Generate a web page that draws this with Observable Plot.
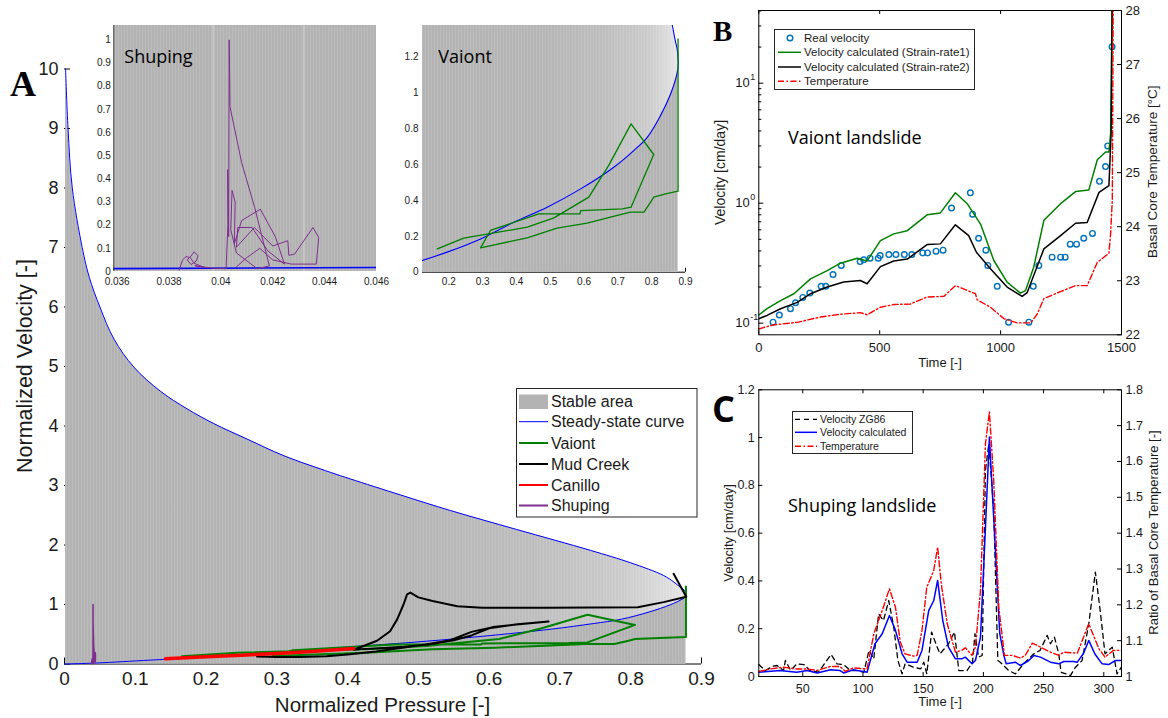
<!DOCTYPE html>
<html><head><meta charset="utf-8">
<script src="https://cdn.jsdelivr.net/npm/d3@7"></script>
<script src="https://cdn.jsdelivr.net/npm/@observablehq/plot@0.6"></script>
<style>
body{margin:0;background:#fff;}
#root{position:relative;width:1168px;height:718px;overflow:hidden;background:#fff;}
</style></head><body>
<svg width="0" height="0" style="position:absolute;left:0;top:0">
  <defs>
    <linearGradient id="stableGrad" x1="0" y1="0" x2="1" y2="0">
      <stop offset="0" stop-color="#b2b2b2"/>
      <stop offset="0.55" stop-color="#b5b5b5"/>
      <stop offset="0.75" stop-color="#bdbdbd"/>
      <stop offset="0.9" stop-color="#cbcbcb"/>
      <stop offset="0.97" stop-color="#dcdcdc"/>
      <stop offset="1" stop-color="#e8e8e8"/>
    </linearGradient>
    <pattern id="stableStripes" width="3" height="10" patternUnits="userSpaceOnUse">
      <rect x="0" y="0" width="1" height="10" fill="#ffffff" fill-opacity="0.13"/>
    </pattern>
  </defs>
</svg>
<div id="root"></div>
<script>
// ---------------- Panel A data ----------------
const steadyUpperP = [0.0015,0.005,0.011,0.025,0.035,0.05,0.07,0.098,0.136,0.173,0.211,0.258,0.31,0.376,0.404,0.475,0.545,0.639,0.743,0.80,0.846,0.861,0.87,0.876,0.878];
const steadyUpperV = [10.0,9.0,8.0,7.0,6.5,6.0,5.46,4.99,4.58,4.29,4.04,3.78,3.50,3.22,3.11,2.84,2.58,2.26,1.91,1.70,1.49,1.377,1.29,1.237,1.144];
const steadyLowerP = [0,0.046,0.121,0.195,0.294,0.392,0.491,0.59,0.688,0.747,0.787,0.826,0.856,0.871,0.878];
const steadyLowerV = [0,0.017,0.065,0.112,0.186,0.279,0.363,0.465,0.586,0.679,0.753,0.874,0.995,1.079,1.144];

const vaiontP = [0.166,0.244,0.432,0.511,0.614,0.673,0.739,0.806,0.739,0.713,0.590,0.588,0.466,0.323,0.294,0.432,0.52,0.609,0.678,0.737,0.777,0.797,0.806,0.841,0.878,0.878];
const vaiontV = [0.130,0.190,0.251,0.303,0.419,0.596,0.828,0.657,0.363,0.354,0.344,0.326,0.326,0.233,0.136,0.192,0.246,0.274,0.307,0.335,0.335,0.391,0.419,0.437,0.452,1.302];

const mudP = [0.272,0.30,0.333,0.37,0.404,0.44,0.475,0.51,0.545,0.575,0.605,0.635,0.684,0.64,0.6,0.575,0.55,0.517,0.48,0.446,0.42,0.4086,0.4416,0.46,0.47,0.479,0.484,0.4887,0.50,0.52,0.555,0.59,0.68,0.81,0.8465,0.8785,0.8606];
const mudV = [0.126,0.118,0.117,0.13,0.165,0.21,0.27,0.33,0.40,0.54,0.62,0.66,0.714,0.67,0.60,0.48,0.40,0.33,0.29,0.265,0.25,0.24,0.39,0.55,0.75,1.0,1.17,1.20,1.12,1.06,0.97,0.945,0.944,0.955,1.04,1.13,1.516];

const canilloP = [0.1427,0.2,0.25,0.3,0.35,0.4086];
const canilloV = [0.087,0.12,0.148,0.177,0.21,0.26];

const shupingP = [0.03839,0.03852,0.03866,0.03880,0.03897,0.03912,0.03905,0.03885,0.03870,0.03880,0.03898,0.03935,0.03900,0.03960,0.04020,0.04027,0.04026,0.04030,0.04032,0.04035,0.04080,0.04130,0.04187,0.04140,0.04060,0.04038,0.04043,0.04055,0.04052,0.04080,0.04152,0.04210,0.04245,0.04180,0.04120,0.04065,0.04060,0.04129,0.04200,0.04258,0.04262,0.04284,0.04355,0.04377,0.04368,0.04271,0.04200,0.04150,0.04100,0.04060];
const shupingV = [0.006,0.050,0.065,0.060,0.085,0.068,0.045,0.030,0.050,0.062,0.035,0.018,0.025,0.015,0.012,0.20,0.44,0.15,1.00,0.712,0.47,0.277,0.024,0.012,0.08,0.18,0.35,0.30,0.12,0.22,0.269,0.15,0.032,0.09,0.19,0.19,0.105,0.19,0.11,0.133,0.07,0.075,0.19,0.147,0.032,0.032,0.05,0.10,0.06,0.02];

const aXTicks = [0,0.1,0.2,0.3,0.4,0.5,0.6,0.7,0.8,0.9];
const aYTicks = [0,1,2,3,4,5,6,7,8,9,10];
const shXTicks = [0.036,0.038,0.04,0.042,0.044,0.046];
const shYTicks = [0,0.1,0.2,0.3,0.4,0.5,0.6,0.7,0.8,0.9,1];
const shStripes = [0.0397,0.0432];
const shDomainX = [0.03587,0.046], shDomainY = [0,1.062];
const vaXTicks = [0.2,0.3,0.4,0.5,0.6,0.7,0.8,0.9];
const vaYTicks = [0,0.2,0.4,0.6,0.8,1,1.2];
const vaDomainX = [0.1222,0.9], vaDomainY = [0,1.377];

const aLegendLabels = ["Stable area","Steady-state curve","Vaiont","Mud Creek","Canillo","Shuping"];

// ---------------- Panel B data ----------------
const bRealT = [59,85,131,152,182,211,258,277,307,341,419,434,460,494,502,538,567,602,633,678,698,733,762,797,875,884,909,939,947,986,1033,1117,1135,1158,1213,1248,1267,1288,1314,1344,1380,1409,1434,1443,1461];
const bRealV = [0.102,0.117,0.132,0.148,0.164,0.178,0.203,0.203,0.254,0.303,0.326,0.337,0.348,0.348,0.366,0.373,0.373,0.373,0.373,0.385,0.385,0.398,0.406,0.91,1.22,0.81,0.51,0.406,0.303,0.203,0.102,0.102,0.203,0.303,0.355,0.355,0.355,0.455,0.455,0.51,0.56,1.52,2.02,3.0,20.1];
const bSr1T = [0,34,90,145,214,283,338,407,448,503,558,614,696,751,813,862,917,972,1027,1082,1103,1137,1179,1248,1310,1365,1400,1434,1448,1455,1462];
const bSr1V = [0.117,0.132,0.154,0.176,0.234,0.274,0.316,0.348,0.33,0.488,0.555,0.59,0.8,0.83,1.22,0.99,0.67,0.333,0.22,0.178,0.187,0.293,0.72,0.99,1.25,1.29,2.3,2.67,2.67,3.8,60];
const bSr2T = [0,34,90,159,214,283,351,420,448,503,558,614,696,751,813,868,900,958,1027,1089,1110,1179,1248,1310,1358,1407,1448,1457,1462];
const bSr2V = [0.109,0.116,0.132,0.149,0.176,0.2,0.22,0.227,0.213,0.296,0.33,0.342,0.452,0.458,0.66,0.536,0.39,0.284,0.2,0.167,0.18,0.416,0.536,0.68,0.69,1.23,1.4,3.8,60];
const bTempT = [0,62,159,255,338,420,448,503,558,627,696,765,813,862,896,903,958,1013,1068,1124,1151,1179,1248,1310,1358,1400,1448,1455,1462,1466];
const bTempC = [22.11,22.185,22.23,22.33,22.38,22.41,22.37,22.51,22.56,22.57,22.70,22.71,22.91,22.82,22.76,22.65,22.51,22.30,22.22,22.22,22.38,22.67,22.80,22.91,22.91,23.34,23.51,23.87,24.5,28.5];
const bXTicks = [0,500,1000,1500];
const bYMajor = [0.1,1,10];
const bYExp = ["-1","0","1"];
const bYMinor = [0.09,0.2,0.3,0.4,0.5,0.6,0.7,0.8,0.9,2,3,4,5,6,7,8,9,20,30,40];
const bTTicks = [22,23,24,25,26,27,28];
const bLegendLabels = ["Real velocity","Velocity calculated (Strain-rate1)","Velocity calculated (Strain-rate2)","Temperature"];

// ---------------- Panel C data ----------------
const cZgT = [13.5,19,24.5,28.7,34,35.6,40,45,51,56,63,69,73.5,78.5,84,89.6,95,100.7,105,109,113,117,121.4,125.6,129,132.5,135,142,148,150.5,153,157,161.6,164,171,176,179.6,186.5,191,193,196,199,201.7,204.5,208.6,212,214,221,226.6,233.5,241.9,247,253,255.7,259,262.6,264.5,272.3,276.5,282,287.5,293,297,301,307,311,314.6];
const cZgV = [0.05,0.025,0.042,0.046,0.025,0.067,0.025,0.053,0.05,0.025,0.018,0.06,0.092,0.053,0.05,0.025,0.025,0.018,0.109,0.074,0.262,0.234,0.318,0.206,0.067,0.011,0.053,0.039,0.032,0.06,0.011,0.186,0.123,0.095,0.137,0.186,0.025,0.025,0.06,0.179,0.081,0.088,0.862,0.974,0.695,0.067,0.06,0.025,0.011,0.053,0.095,0.109,0.172,0.137,0.165,0.095,0.018,0.004,0.039,0.067,0.22,0.437,0.276,0.095,0.123,0.011,0.039];
const cCalcT = [13.5,31,45,53.6,62,73,81,84,92,103.4,110,116,122,127,132.5,136.7,145,149,154.6,158.8,162,166.3,171,176.8,182,185,190.6,193.4,197.6,201,205,209,213.6,217,219,226.6,230.8,237.7,242,247.4,255.7,262.6,266.8,275,278,283,287.5,292.5,298.6,304,309.7,314.6];
const cCalcV = [0.018,0.025,0.018,0.025,0.015,0.028,0.025,0.015,0.028,0.018,0.137,0.179,0.255,0.193,0.095,0.06,0.06,0.109,0.276,0.318,0.402,0.234,0.123,0.074,0.074,0.081,0.053,0.067,0.165,0.541,1.002,0.625,0.179,0.088,0.053,0.06,0.046,0.067,0.088,0.081,0.06,0.053,0.063,0.063,0.06,0.095,0.151,0.095,0.053,0.05,0.067,0.067];
const cTempT = [13.5,23,34,45,53.6,62,73,81,85.4,92,103.4,109,116,122,127,131,135,142,145,149,153,158.8,162,165,170,176.8,182,185,190.6,193.4,197.6,201.7,205,208.6,212.8,217.5,224,231,235,240.6,247.4,255.7,262.6,266.8,278,287.5,296,301,308,314.6];
const cTempR = [1.014,1.021,1.026,1.021,1.021,1.017,1.028,1.028,1.014,1.024,1.021,1.119,1.184,1.245,1.193,1.096,1.063,1.057,1.059,1.128,1.249,1.296,1.361,1.259,1.147,1.068,1.073,1.08,1.059,1.082,1.24,1.649,1.738,1.547,1.193,1.059,1.059,1.051,1.06,1.093,1.082,1.068,1.059,1.068,1.065,1.147,1.077,1.054,1.073,1.073];
const cXTicks = [50,100,150,200,250,300];
const cYTicks = [0,0.2,0.4,0.6,0.8,1,1.2];
const cRTicks = [1,1.1,1.2,1.3,1.4,1.5,1.6,1.7,1.8];
const cLegendLabels = ["Velocity ZG86","Velocity calculated","Temperature"];

// ---------------- helpers ----------------
const FONT = "'Liberation Sans', Arial, Helvetica, sans-serif";
const INK = "#1a1a1a";
const SMOOTH = "catmull-rom";
const rows = (xs, ys) => xs.map((x, i) => ({x, y: ys[i]}));
const root = document.getElementById("root");
function place(svg, left, top) {
  const d = document.createElement("div");
  d.style.cssText = `position:absolute;left:${left}px;top:${top}px;`;
  d.appendChild(svg);
  root.appendChild(d);
}
const baseStyle = (bg) => ({background: bg, fontFamily: FONT, color: INK, overflow: "visible"});

const upperArea = rows(steadyUpperP, steadyUpperV);
const lowerArea = rows(steadyLowerP, steadyLowerV);
const steadyCurve = [...lowerArea.slice(0, -1), ...upperArea.slice().reverse()];
const vaiont = rows(vaiontP, vaiontV);
const mud = rows(mudP, mudV);
const canillo = rows(canilloP, canilloV);
const shuping = rows(shupingP, shupingV);

// stable area layers: light gradient under the upper branch, plain grey under the lower branch, stripes on top
const stableMarks = (clip) => [
  Plot.areaY(upperArea, {x: "x", y1: 0, y2: "y", fill: "url(#stableGrad)", curve: SMOOTH, clip}),
  Plot.areaY(lowerArea, {x: "x", y1: 0, y2: "y", fill: "#b3b3b3", curve: SMOOTH, clip}),
  Plot.areaY(upperArea, {x: "x", y1: 0, y2: "y", fill: "url(#stableStripes)", curve: SMOOTH, clip})
];

// ---------------- Panel A main ----------------
{
  const W = 720, H = 718, ML = 64, MR = 19, MT = 68.5, MB = 54.5;
  const FW = W - ML - MR, FH = H - MT - MB;
  const svg = Plot.plot({
    width: W, height: H, marginLeft: ML, marginRight: MR, marginTop: MT, marginBottom: MB,
    x: {domain: [0, 0.9], axis: null},
    y: {domain: [0, 10], axis: null},
    style: baseStyle("transparent"),
    marks: [
      Plot.ruleY([0], {stroke: "#000"}),
      Plot.ruleX(aXTicks, {x: d => d, insetTop: FH - 6, stroke: "#000"}),
      Plot.ruleY(aYTicks, {y: d => d, insetRight: FW - 6, stroke: "#000"}),
      ...stableMarks(false),
      Plot.line(steadyCurve, {x: "x", y: "y", stroke: "#0000ff", strokeWidth: 1, curve: SMOOTH}),
      Plot.line(vaiont, {x: "x", y: "y", stroke: "#008000", strokeWidth: 2}),
      Plot.line(mud, {x: "x", y: "y", stroke: "#000000", strokeWidth: 2}),
      Plot.line(canillo, {x: "x", y: "y", stroke: "#ff0000", strokeWidth: 3.5}),
      Plot.line(shuping, {x: "x", y: "y", stroke: "#7E2F8E", strokeWidth: 1.5}),
      Plot.text(aXTicks, {x: d => d, frameAnchor: "bottom", dy: 15, text: d => String(d), fontSize: 19, lineAnchor: "middle", fill: INK}),
      Plot.text(aYTicks, {y: d => d, frameAnchor: "left", dx: -6, textAnchor: "end", text: d => String(d), fontSize: 18, lineAnchor: "middle", fill: INK})
    ]
  });
  place(svg, 0, 0);
}

// ---------------- Shuping inset ----------------
{
  const W = 288, H = 272, ML = 16.3, MR = 9, MT = 7, MB = 19;
  const svg = Plot.plot({
    width: W, height: H, marginLeft: ML, marginRight: MR, marginTop: MT, marginBottom: MB,
    x: {domain: shDomainX, axis: null},
    y: {domain: shDomainY, axis: null},
    style: baseStyle("#ffffff"),
    marks: [
      ...stableMarks(true),
      Plot.ruleX(shStripes, {x: d => d, stroke: "#d0d0d0", strokeWidth: 1.2}),
      Plot.ruleX([shDomainX[0]], {x: d => d, stroke: "#444", strokeWidth: 1}),
      Plot.line(steadyCurve, {x: "x", y: "y", stroke: "#0000ff", strokeWidth: 1.6, curve: SMOOTH, clip: true}),
      Plot.line(shuping, {x: "x", y: "y", stroke: "#7E2F8E", strokeWidth: 1, clip: true}),
      Plot.text(shXTicks, {x: d => d, frameAnchor: "bottom", dy: 10, text: d => String(d), fontSize: 10, lineAnchor: "middle", fill: INK}),
      Plot.text(shYTicks, {y: d => d, frameAnchor: "left", dx: -3, textAnchor: "end", text: d => String(d), fontSize: 10, lineAnchor: "middle", fill: INK})
    ]
  });
  place(svg, 97, 18);
}

// ---------------- Vaiont inset ----------------
{
  const W = 300, H = 272, ML = 27, MR = 10, MT = 7, MB = 18.3;
  const FH = H - MT - MB;
  const svg = Plot.plot({
    width: W, height: H, marginLeft: ML, marginRight: MR, marginTop: MT, marginBottom: MB,
    x: {domain: vaDomainX, axis: null},
    y: {domain: vaDomainY, axis: null},
    style: baseStyle("#ffffff"),
    marks: [
      Plot.ruleY([0], {stroke: "#000"}),
      Plot.ruleX([0.9], {x: d => d, insetTop: FH - 4, stroke: "#000"}),
      ...stableMarks(true),
      Plot.line(steadyCurve, {x: "x", y: "y", stroke: "#0000ff", strokeWidth: 1.1, curve: SMOOTH, clip: true}),
      Plot.line(vaiont, {x: "x", y: "y", stroke: "#008000", strokeWidth: 1.3, clip: true}),
      Plot.text(vaXTicks, {x: d => d, frameAnchor: "bottom", dy: 9.5, text: d => String(d), fontSize: 10, lineAnchor: "middle", fill: INK}),
      Plot.text(vaYTicks, {y: d => d, frameAnchor: "left", dx: -4, textAnchor: "end", text: d => String(d), fontSize: 10, lineAnchor: "middle", fill: INK})
    ]
  });
  place(svg, 395, 18);
}

// ---------------- Panel B ----------------
{
  const W = 468, H = 365, ML = 58.3, MR = 47, MT = 10, MB = 30.7;
  const FW = W - ML - MR, FH = H - MT - MB;
  const velo = Plot.plot({
    width: W, height: H, marginLeft: ML, marginRight: MR, marginTop: MT, marginBottom: MB,
    x: {domain: [0, 1500], axis: null},
    y: {type: "log", domain: [0.08, 40.35], axis: null},
    style: baseStyle("transparent"),
    marks: [
      Plot.dot(rows(bRealT, bRealV), {x: "x", y: "y", r: 2.8, stroke: "#0072BD", strokeWidth: 1.4, fill: "none"}),
      Plot.line(rows(bSr1T, bSr1V), {x: "x", y: "y", stroke: "#008000", strokeWidth: 1.5, clip: true}),
      Plot.line(rows(bSr2T, bSr2V), {x: "x", y: "y", stroke: "#000000", strokeWidth: 1.5, clip: true}),
      Plot.ruleY(bYMajor, {y: d => d, insetRight: FW - 5, stroke: "#000"}),
      Plot.ruleY(bYMinor, {y: d => d, insetRight: FW - 3, stroke: "#000"}),
      Plot.ruleX(bXTicks, {x: d => d, insetTop: FH - 4, stroke: "#000"}),
      Plot.ruleX(bXTicks, {x: d => d, insetBottom: FH - 4, stroke: "#000"}),
      Plot.text(bXTicks, {x: d => d, frameAnchor: "bottom", dy: 13, text: d => String(d), fontSize: 13, lineAnchor: "middle", fill: INK}),
      Plot.text(bYMajor, {y: d => d, frameAnchor: "left", dx: -9, textAnchor: "end", text: () => "10", fontSize: 13, lineAnchor: "middle", fill: INK}),
      Plot.text(bYMajor, {y: d => d, frameAnchor: "left", dx: -8.6, dy: -6, textAnchor: "start", text: (d, i) => bYExp[i], fontSize: 9, lineAnchor: "middle", fill: INK})
    ]
  });
  place(velo, 700, 0);
  const temp = Plot.plot({
    width: W, height: H, marginLeft: ML, marginRight: MR, marginTop: MT, marginBottom: MB,
    x: {domain: [0, 1500], axis: null},
    y: {domain: [22, 28], axis: null},
    style: baseStyle("transparent"),
    marks: [
      Plot.line(rows(bTempT, bTempC), {x: "x", y: "y", stroke: "#ff0000", strokeWidth: 1.4, strokeDasharray: "6,2.5,1.5,2.5", clip: true}),
      Plot.frame({stroke: "#000"}),
      Plot.ruleY(bTTicks, {y: d => d, insetLeft: FW - 4, stroke: "#000"}),
      Plot.text(bTTicks, {y: d => d, frameAnchor: "right", dx: 4, textAnchor: "start", text: d => String(d), fontSize: 13, lineAnchor: "middle", fill: INK})
    ]
  });
  place(temp, 700, 0);
}

// ---------------- Panel C ----------------
{
  const W = 468, H = 353, ML = 58.3, MR = 47, MT = 24.3, MB = 42;
  const FW = W - ML - MR, FH = H - MT - MB;
  const velo = Plot.plot({
    width: W, height: H, marginLeft: ML, marginRight: MR, marginTop: MT, marginBottom: MB,
    x: {domain: [13.5, 314.7], axis: null},
    y: {domain: [0, 1.2], axis: null},
    style: baseStyle("transparent"),
    marks: [
      Plot.line(rows(cZgT, cZgV), {x: "x", y: "y", stroke: "#000000", strokeWidth: 1.3, strokeDasharray: "5,4", clip: true}),
      Plot.line(rows(cCalcT, cCalcV), {x: "x", y: "y", stroke: "#0000ff", strokeWidth: 1.5, clip: true}),
      Plot.ruleY(cYTicks, {y: d => d, insetRight: FW - 4, stroke: "#000"}),
      Plot.ruleX(cXTicks, {x: d => d, insetTop: FH - 4, stroke: "#000"}),
      Plot.ruleX(cXTicks, {x: d => d, insetBottom: FH - 4, stroke: "#000"}),
      Plot.text(cXTicks, {x: d => d, frameAnchor: "bottom", dy: 12, text: d => String(d), fontSize: 12.5, lineAnchor: "middle", fill: INK}),
      Plot.text(cYTicks, {y: d => d, frameAnchor: "left", dx: -4, textAnchor: "end", text: d => String(d), fontSize: 12.5, lineAnchor: "middle", fill: INK})
    ]
  });
  place(velo, 700, 365);
  const temp = Plot.plot({
    width: W, height: H, marginLeft: ML, marginRight: MR, marginTop: MT, marginBottom: MB,
    x: {domain: [13.5, 314.7], axis: null},
    y: {domain: [1, 1.8], axis: null},
    style: baseStyle("transparent"),
    marks: [
      Plot.line(rows(cTempT, cTempR), {x: "x", y: "y", stroke: "#ff0000", strokeWidth: 1.4, strokeDasharray: "6,2.5,1.5,2.5", clip: true}),
      Plot.frame({stroke: "#000"}),
      Plot.ruleY(cRTicks, {y: d => d, insetLeft: FW - 4, stroke: "#000"}),
      Plot.text(cRTicks, {y: d => d, frameAnchor: "right", dx: 4, textAnchor: "start", text: d => String(d), fontSize: 12.5, lineAnchor: "middle", fill: INK})
    ]
  });
  place(temp, 700, 365);
}

// ---------------- Overlay: letters, titles, annotations, legends ----------------
{
  const NS = "http://www.w3.org/2000/svg";
  const ov = document.createElementNS(NS, "svg");
  ov.setAttribute("width", 1168); ov.setAttribute("height", 718);
  ov.style.cssText = "position:absolute;left:0;top:0;overflow:visible;pointer-events:none";
  root.appendChild(ov);
  function el(name, attrs, text) {
    const e = document.createElementNS(NS, name);
    for (const k in attrs) e.setAttribute(k, attrs[k]);
    if (text != null) e.textContent = text;
    ov.appendChild(e);
    return e;
  }
  const txt = (x, y, s, size, extra = {}) => el("text", Object.assign({x, y, "font-size": size, "font-family": FONT, fill: INK}, extra), s);
  const vtxt = (x, y, s, size) => el("text", {transform: `translate(${x},${y}) rotate(-90)`, "text-anchor": "middle", "font-size": size, "font-family": FONT, fill: INK}, s);

  // panel letters
  txt(10, 96, "A", 36, {"font-family": "'Liberation Serif','DejaVu Serif',serif", "font-weight": "bold", fill: "#000"});
  txt(713, 40.5, "B", 29, {"font-family": "'Liberation Serif','DejaVu Serif',serif", "font-weight": "bold", fill: "#000"});
  txt(712, 422, "C", 36, {"font-family": "'Open Sans','Noto Sans',sans-serif", "font-weight": "bold", fill: "#000"});

  // axis titles
  txt(382.5, 712, "Normalized Pressure [-]", 20.5, {"text-anchor": "middle"});
  vtxt(31.5, 366, "Normalized Velocity [-]", 21.5);
  vtxt(725, 172.5, "Velocity [cm/day]", 14);
  vtxt(1156.7, 171.7, "Basal Core Temperature [°C]", 13.5);
  txt(940, 367, "Time [-]", 13, {"text-anchor": "middle"});
  vtxt(733, 533, "Velocity [cm/day]", 13);
  vtxt(1157.7, 532.5, "Ratio of Basal Core Temperature [-]", 13);
  txt(940, 706, "Time [-]", 13, {"text-anchor": "middle"});

  // annotations
  const ANN = "'Open Sans','Noto Sans',sans-serif";
  txt(124.3, 63.3, "Shuping", 18, {"font-family": ANN, fill: "#000"});
  txt(438.3, 62.7, "Vaiont", 18, {"font-family": ANN, fill: "#000"});
  txt(788, 144, "Vaiont landslide", 18, {"font-family": ANN, fill: "#000"});
  txt(788, 512, "Shuping landslide", 18, {"font-family": ANN, fill: "#000"});

  // legend A
  el("rect", {x: 516.5, y: 388.5, width: 180.5, height: 128.5, fill: "#fff", stroke: "#262626", "stroke-width": 1});
  const aRowY = [401.7, 421.7, 443, 464, 485, 505.5];
  const aColors = [null, "#0000ff", "#008000", "#000000", "#ff0000", "#7E2F8E"];
  const aWidths = [0, 1, 2, 2, 2, 2];
  aLegendLabels.forEach((lab, i) => {
    if (i === 0) el("rect", {x: 519, y: 394.5, width: 29, height: 14.5, fill: "#b3b3b3"});
    else el("line", {x1: 519, x2: 548, y1: aRowY[i], y2: aRowY[i], stroke: aColors[i], "stroke-width": aWidths[i]});
    txt(551, aRowY[i], lab, 16, {"dominant-baseline": "central"});
  });

  // legend B
  el("rect", {x: 774.5, y: 29.5, width: 200, height: 60, fill: "#fff", stroke: "#262626", "stroke-width": 1});
  const bRowY = [38, 52.3, 67, 81.3];
  bLegendLabels.forEach((lab, i) => {
    const y = bRowY[i];
    if (i === 0) el("circle", {cx: 790, cy: y, r: 2.8, fill: "none", stroke: "#0072BD", "stroke-width": 1.4});
    else if (i === 1) el("line", {x1: 778, x2: 801, y1: y, y2: y, stroke: "#008000", "stroke-width": 1.5});
    else if (i === 2) el("line", {x1: 778, x2: 801, y1: y, y2: y, stroke: "#000", "stroke-width": 1.5});
    else el("line", {x1: 778, x2: 801, y1: y, y2: y, stroke: "#ff0000", "stroke-width": 1.4, "stroke-dasharray": "6,2.5,1.5,2.5"});
    txt(804, y, lab, 11.5, {"dominant-baseline": "central"});
  });

  // legend C
  el("rect", {x: 792.5, y: 411.5, width: 120, height: 42, fill: "#fff", stroke: "#262626", "stroke-width": 1});
  const cRowY = [419.3, 432.3, 446.3];
  cLegendLabels.forEach((lab, i) => {
    const y = cRowY[i];
    if (i === 0) el("line", {x1: 795, x2: 817, y1: y, y2: y, stroke: "#000", "stroke-width": 1.3, "stroke-dasharray": "5,4"});
    else if (i === 1) el("line", {x1: 795, x2: 817, y1: y, y2: y, stroke: "#0000ff", "stroke-width": 1.5});
    else el("line", {x1: 795, x2: 817, y1: y, y2: y, stroke: "#ff0000", "stroke-width": 1.4, "stroke-dasharray": "6,2.5,1.5,2.5"});
    txt(820, y, lab, 10.5, {"dominant-baseline": "central"});
  });
}
</script>
</body></html>
